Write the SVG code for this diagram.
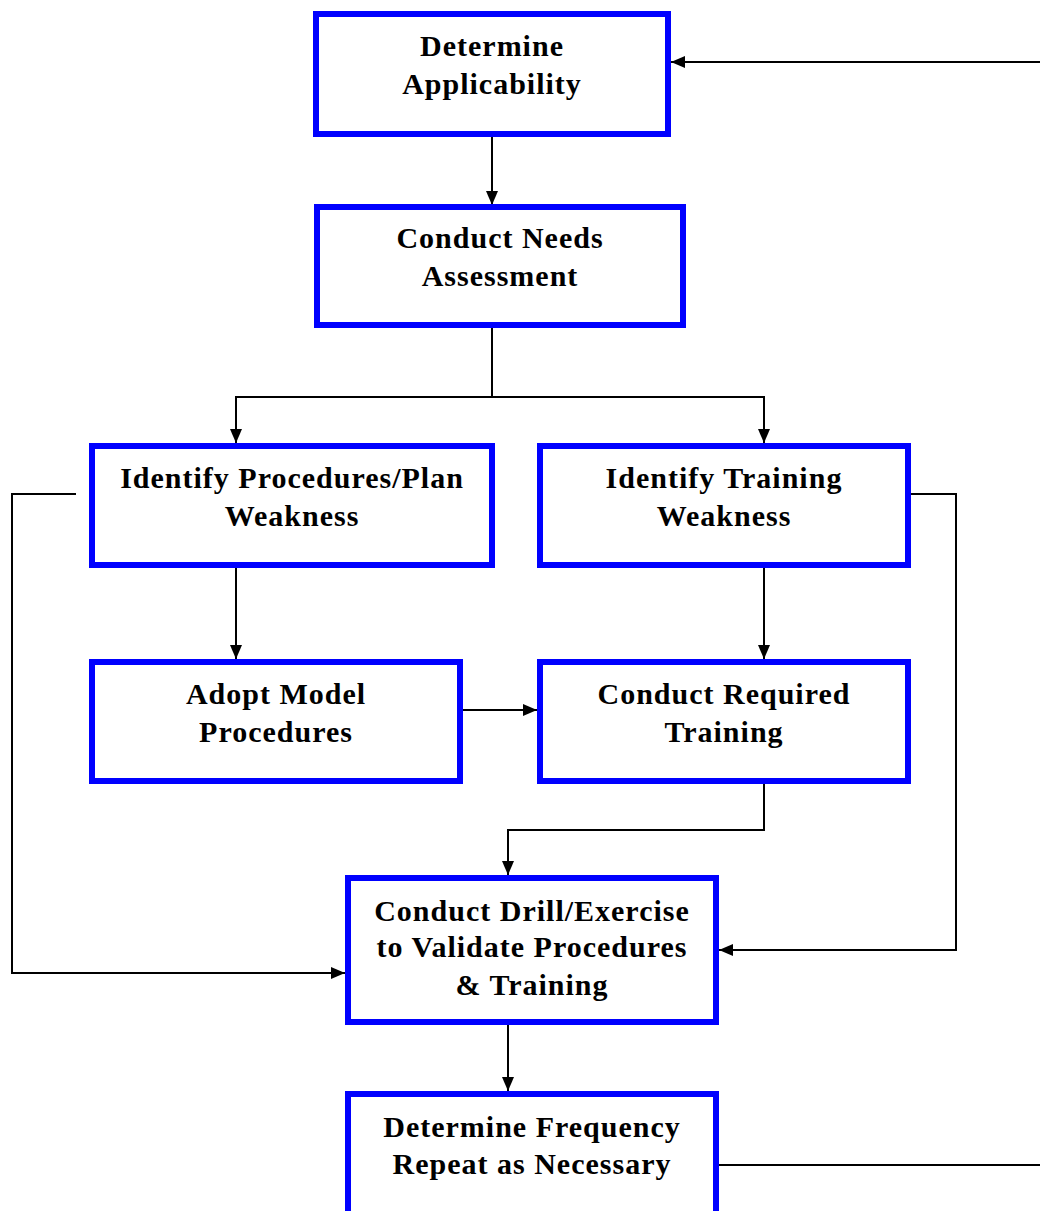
<svg xmlns="http://www.w3.org/2000/svg" width="1040" height="1211" viewBox="0 0 1040 1211">
<style>
.box{fill:#fff;stroke:#0000ff;stroke-width:6}
.lbl{font-family:"Liberation Serif","Times New Roman",serif;font-weight:bold;font-size:30px;letter-spacing:1px;fill:#000;text-anchor:middle}
.c{fill:none;stroke:#000;stroke-width:2}
</style>
<defs>
<marker id="ah" markerWidth="14" markerHeight="12" refX="14" refY="6" orient="auto" markerUnits="userSpaceOnUse">
<path d="M0,0 L14,6 L0,12 Z" fill="#000"/>
</marker>
</defs>
<rect width="1040" height="1211" fill="#fff"/>
<g id="connectors">
<path class="c" d="M1040,62 H671" marker-end="url(#ah)"/>
<path class="c" d="M492,136 V205" marker-end="url(#ah)"/>
<path class="c" d="M492,327 V397 H236 V443" marker-end="url(#ah)"/>
<path class="c" d="M492,397 H764 V443" marker-end="url(#ah)"/>
<path class="c" d="M76,494 H12 V973 H345" marker-end="url(#ah)"/>
<path class="c" d="M910,494 H956 V950 H719" marker-end="url(#ah)"/>
<path class="c" d="M236,568 V659" marker-end="url(#ah)"/>
<path class="c" d="M764,568 V659" marker-end="url(#ah)"/>
<path class="c" d="M463,710 H537" marker-end="url(#ah)"/>
<path class="c" d="M764,784 V830 H508 V875" marker-end="url(#ah)"/>
<path class="c" d="M508,1025 V1091" marker-end="url(#ah)"/>
<path class="c" d="M719,1165 H1040"/>
</g>
<g id="n1"><rect class="box" x="316" y="14" width="352" height="120"/><text class="lbl" x="492" y="56">Determine</text><text class="lbl" x="492" y="94">Applicability</text></g>
<g id="n2"><rect class="box" x="317" y="207" width="366" height="118"/><text class="lbl" x="500" y="248">Conduct Needs</text><text class="lbl" x="500" y="286">Assessment</text></g>
<g id="n3"><rect class="box" x="92" y="446" width="400" height="119"/><text class="lbl" x="292" y="488">Identify Procedures/Plan</text><text class="lbl" x="292" y="526">Weakness</text></g>
<g id="n4"><rect class="box" x="540" y="446" width="368" height="119"/><text class="lbl" x="724" y="488">Identify Training</text><text class="lbl" x="724" y="526">Weakness</text></g>
<g id="n5"><rect class="box" x="92" y="662" width="368" height="119"/><text class="lbl" x="276" y="704">Adopt Model</text><text class="lbl" x="276" y="742">Procedures</text></g>
<g id="n6"><rect class="box" x="540" y="662" width="368" height="119"/><text class="lbl" x="724" y="704">Conduct Required</text><text class="lbl" x="724" y="742">Training</text></g>
<g id="n7"><rect class="box" x="348" y="878" width="368" height="144"/><text class="lbl" x="532" y="921">Conduct Drill/Exercise</text><text class="lbl" x="532" y="957">to Validate Procedures</text><text class="lbl" x="532" y="995">&amp; Training</text></g>
<g id="n8"><rect class="box" x="348" y="1094" width="368" height="140"/><text class="lbl" x="532" y="1137">Determine Frequency</text><text class="lbl" x="532" y="1174">Repeat as Necessary</text></g>
</svg>
